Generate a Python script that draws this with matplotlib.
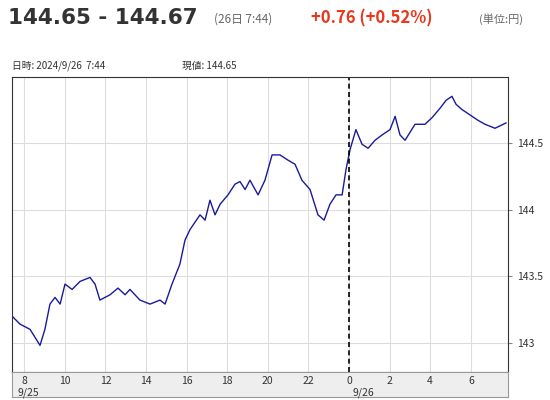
import matplotlib.pyplot as plt
import numpy as np

plt.rcParams['font.family'] = ['Noto Sans CJK JP', 'DejaVu Sans']

# 時間 (9/25 0時 = 0, 9/26 0時 = 24)
hours = [7.40, 7.79, 8.29, 8.78, 9.02, 9.27, 9.52, 9.77, 10.01, 10.36, 10.75, 11.24, 11.49,
         11.73, 12.23, 12.62, 12.97, 13.21, 13.70, 14.20, 14.69, 14.94, 15.28, 15.67, 15.92,
         16.17, 16.66, 16.91, 17.15, 17.40, 17.65, 18.04, 18.38, 18.63, 18.88, 19.12, 19.52,
         19.86, 20.21, 20.60, 21.00, 21.34, 21.68, 22.08, 22.47, 22.77, 23.06, 23.36, 23.66,
         23.85, 24.05, 24.34, 24.64, 24.94, 25.28, 25.63, 26.02, 26.27, 26.51, 26.76, 27.25,
         27.74, 28.09, 28.48, 28.78, 29.07, 29.27, 29.57, 29.96, 30.35, 30.70, 31.19, 31.73]
price = [143.20, 143.14, 143.10, 142.98, 143.10, 143.29, 143.34, 143.29, 143.44, 143.40, 143.46,
         143.49, 143.44, 143.32, 143.36, 143.41, 143.36, 143.40, 143.32, 143.29, 143.32, 143.29,
         143.44, 143.59, 143.77, 143.85, 143.96, 143.92, 144.07, 143.96, 144.04, 144.11, 144.19,
         144.21, 144.15, 144.22, 144.11, 144.22, 144.41, 144.41, 144.37, 144.34, 144.22, 144.15,
         143.96, 143.92, 144.04, 144.11, 144.11, 144.30, 144.45, 144.60, 144.49, 144.46, 144.52,
         144.56, 144.60, 144.70, 144.56, 144.52, 144.64, 144.64, 144.69, 144.76, 144.82, 144.85,
         144.79, 144.75, 144.71, 144.67, 144.64, 144.61, 144.65]
xticks = [8, 10, 12, 14, 16, 18, 20, 22, 24, 26, 28, 30]
xticklabels = ['8', '10', '12', '14', '16', '18', '20', '22', '0', '2', '4', '6']
yticks = [143, 143.5, 144, 144.5]
yticklabels = ['143', '143.5', '144', '144.5']

fig = plt.figure(figsize=(5.5, 4), dpi=100)

fig.text(0.015, 0.955, '144.65 - 144.67', fontsize=15.5, fontweight='bold', color='#333333',
         family=['DejaVu Sans'], va='center')
fig.text(0.39, 0.952, '(26日 7:44)', fontsize=8.5, color='#666666', va='center')
fig.text(0.565, 0.955, '+0.76 (+0.52%)', fontsize=12, fontweight='bold', color='#e8381c', va='center')
fig.text(0.87, 0.952, '(単位:円)', fontsize=8, color='#666666', va='center')
fig.text(0.022, 0.835, '日時: 2024/9/26  7:44', fontsize=7, color='#333333', va='center')
fig.text(0.33, 0.835, '現値: 144.65', fontsize=7, color='#333333', va='center')

ax = fig.add_axes([12 / 550, 28 / 400, 496 / 550, 295 / 400])
ax.plot(hours, price, color='#1a1a99', lw=1.0)
ax.set_xlim(7.4, 31.83)
ax.set_ylim(142.78, 144.995)
ax.set_xticks(xticks)
ax.set_yticks(yticks)
ax.grid(True, color='#dddddd', lw=0.8)
ax.axvline(24, color='black', lw=1.2, ls=(0, (3, 2)))
ax.yaxis.tick_right()
ax.set_yticklabels(yticklabels, fontsize=7.5, color='#333333')
ax.tick_params(axis='y', length=3, color='#888888')
ax.tick_params(axis='x', length=0, labelbottom=False)
for s in ax.spines.values():
    s.set_color('#333333')

band = fig.add_axes([12 / 550, 3 / 400, 496 / 550, 25 / 400], sharex=ax)
band.set_facecolor('#eeeeee')
band.set_yticks([])
band.tick_params(axis='x', length=0, labelbottom=False)
for s in band.spines.values():
    s.set_color('#999999')
for t, lab in zip(xticks, xticklabels):
    band.text(t, 0.62, lab, ha='center', va='center', fontsize=7.5, color='#333333',
              transform=band.get_xaxis_transform())
band.text(8.2, 0.15, '9/25', ha='center', va='center', fontsize=7.5, color='#333333',
          transform=band.get_xaxis_transform())
band.text(24.7, 0.15, '9/26', ha='center', va='center', fontsize=7.5, color='#333333',
          transform=band.get_xaxis_transform())

fig.savefig('out.png', dpi=100)
